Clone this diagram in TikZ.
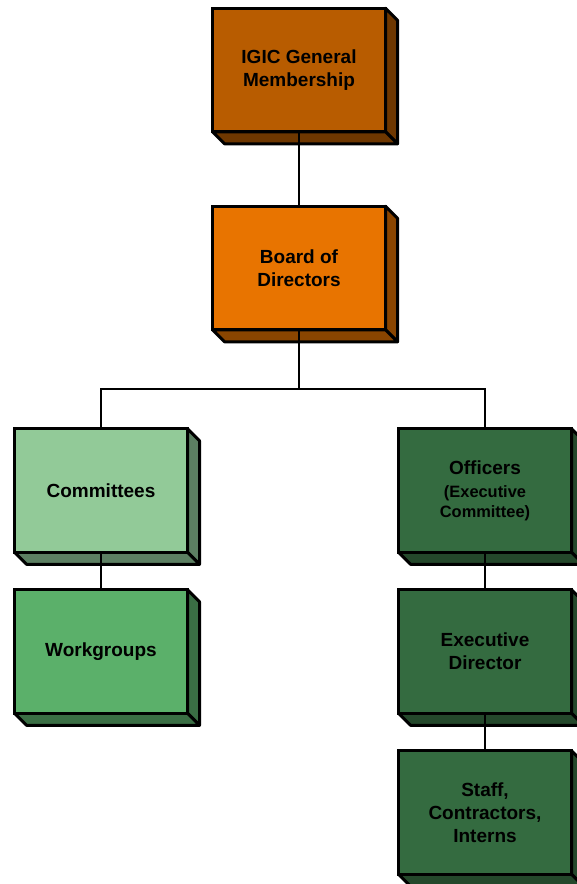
\documentclass[tikz,border=0pt]{standalone}
\usepackage{fontspec}
\setmainfont{Liberation Sans}
\usetikzlibrary{backgrounds}
\definecolor{igicF}{HTML}{B85C00}
\definecolor{igicS}{HTML}{6E3700}
\definecolor{boardF}{HTML}{E87400}
\definecolor{boardS}{HTML}{8A4500}
\definecolor{commF}{HTML}{92CA98}
\definecolor{commS}{HTML}{5C7F62}
\definecolor{workF}{HTML}{5BB06A}
\definecolor{workS}{HTML}{3A6E44}
\definecolor{darkF}{HTML}{346B40}
\definecolor{darkS}{HTML}{24482B}
\tikzset{
  orgbox/.style={draw=black, line width=3pt, minimum width=173pt, minimum height=123.5pt,
    inner sep=0pt, outer sep=0pt, align=center, line join=miter,
    font=\bfseries\fontsize{19}{23}\selectfont},
  sideface/.style={draw=black, line width=3pt, line join=round},
  link/.style={draw=black, line width=2.8pt, line join=miter},
}
\newcommand\boxdepth[2]{%
  \begin{pgfonlayer}{background}
    \filldraw[sideface, fill=#2] (#1.north east) -- ([shift={(12pt,-12pt)}]#1.north east)
      -- ([shift={(12pt,-12pt)}]#1.south east) -- (#1.south east) -- cycle;
    \filldraw[sideface, fill=#2] (#1.south west) -- (#1.south east)
      -- ([shift={(12pt,-12pt)}]#1.south east) -- ([shift={(12pt,-12pt)}]#1.south west) -- cycle;
  \end{pgfonlayer}}
\begin{document}
\begin{tikzpicture}[x=1pt,y=1pt]
  \useasboundingbox (0,0) rectangle (576,-884);
  \node[orgbox, fill=igicF] (igic) at (299,-70) {IGIC General\\Membership};
  \boxdepth{igic}{igicS}
  \node[orgbox, fill=boardF] (board) at (299,-268) {Board of\\Directors};
  \boxdepth{board}{boardS}
  \node[orgbox, fill=commF] (comm) at (101,-490.5) {Committees};
  \boxdepth{comm}{commS}
  \node[orgbox, fill=workF] (work) at (101,-651.5) {Workgroups};
  \boxdepth{work}{workS}
  \node[orgbox, fill=darkF] (off) at (485,-490.5) {Officers\\{\fontsize{16.4}{20}\selectfont(Executive}\\[-3pt]{\fontsize{16.4}{20}\selectfont Committee)}};
  \boxdepth{off}{darkS}
  \node[orgbox, fill=darkF] (ed) at (485,-651.5) {Executive\\Director};
  \boxdepth{ed}{darkS}
  \node[orgbox, fill=darkF] (staff) at (485,-812.5) {Staff,\\Contractors,\\Interns};
  \boxdepth{staff}{darkS}
  \coordinate (bus) at (299,-389);
  \draw[link] (igic.south) -- (board.north);
  \draw[link] (board.south) -- (bus);
  \draw[link] (comm.north) |- (bus) -| (off.north);
  \draw[link] (comm.south) -- (work.north);
  \draw[link] (off.south) -- (ed.north);
  \draw[link] (ed.south) -- (staff.north);
\end{tikzpicture}
\end{document}
